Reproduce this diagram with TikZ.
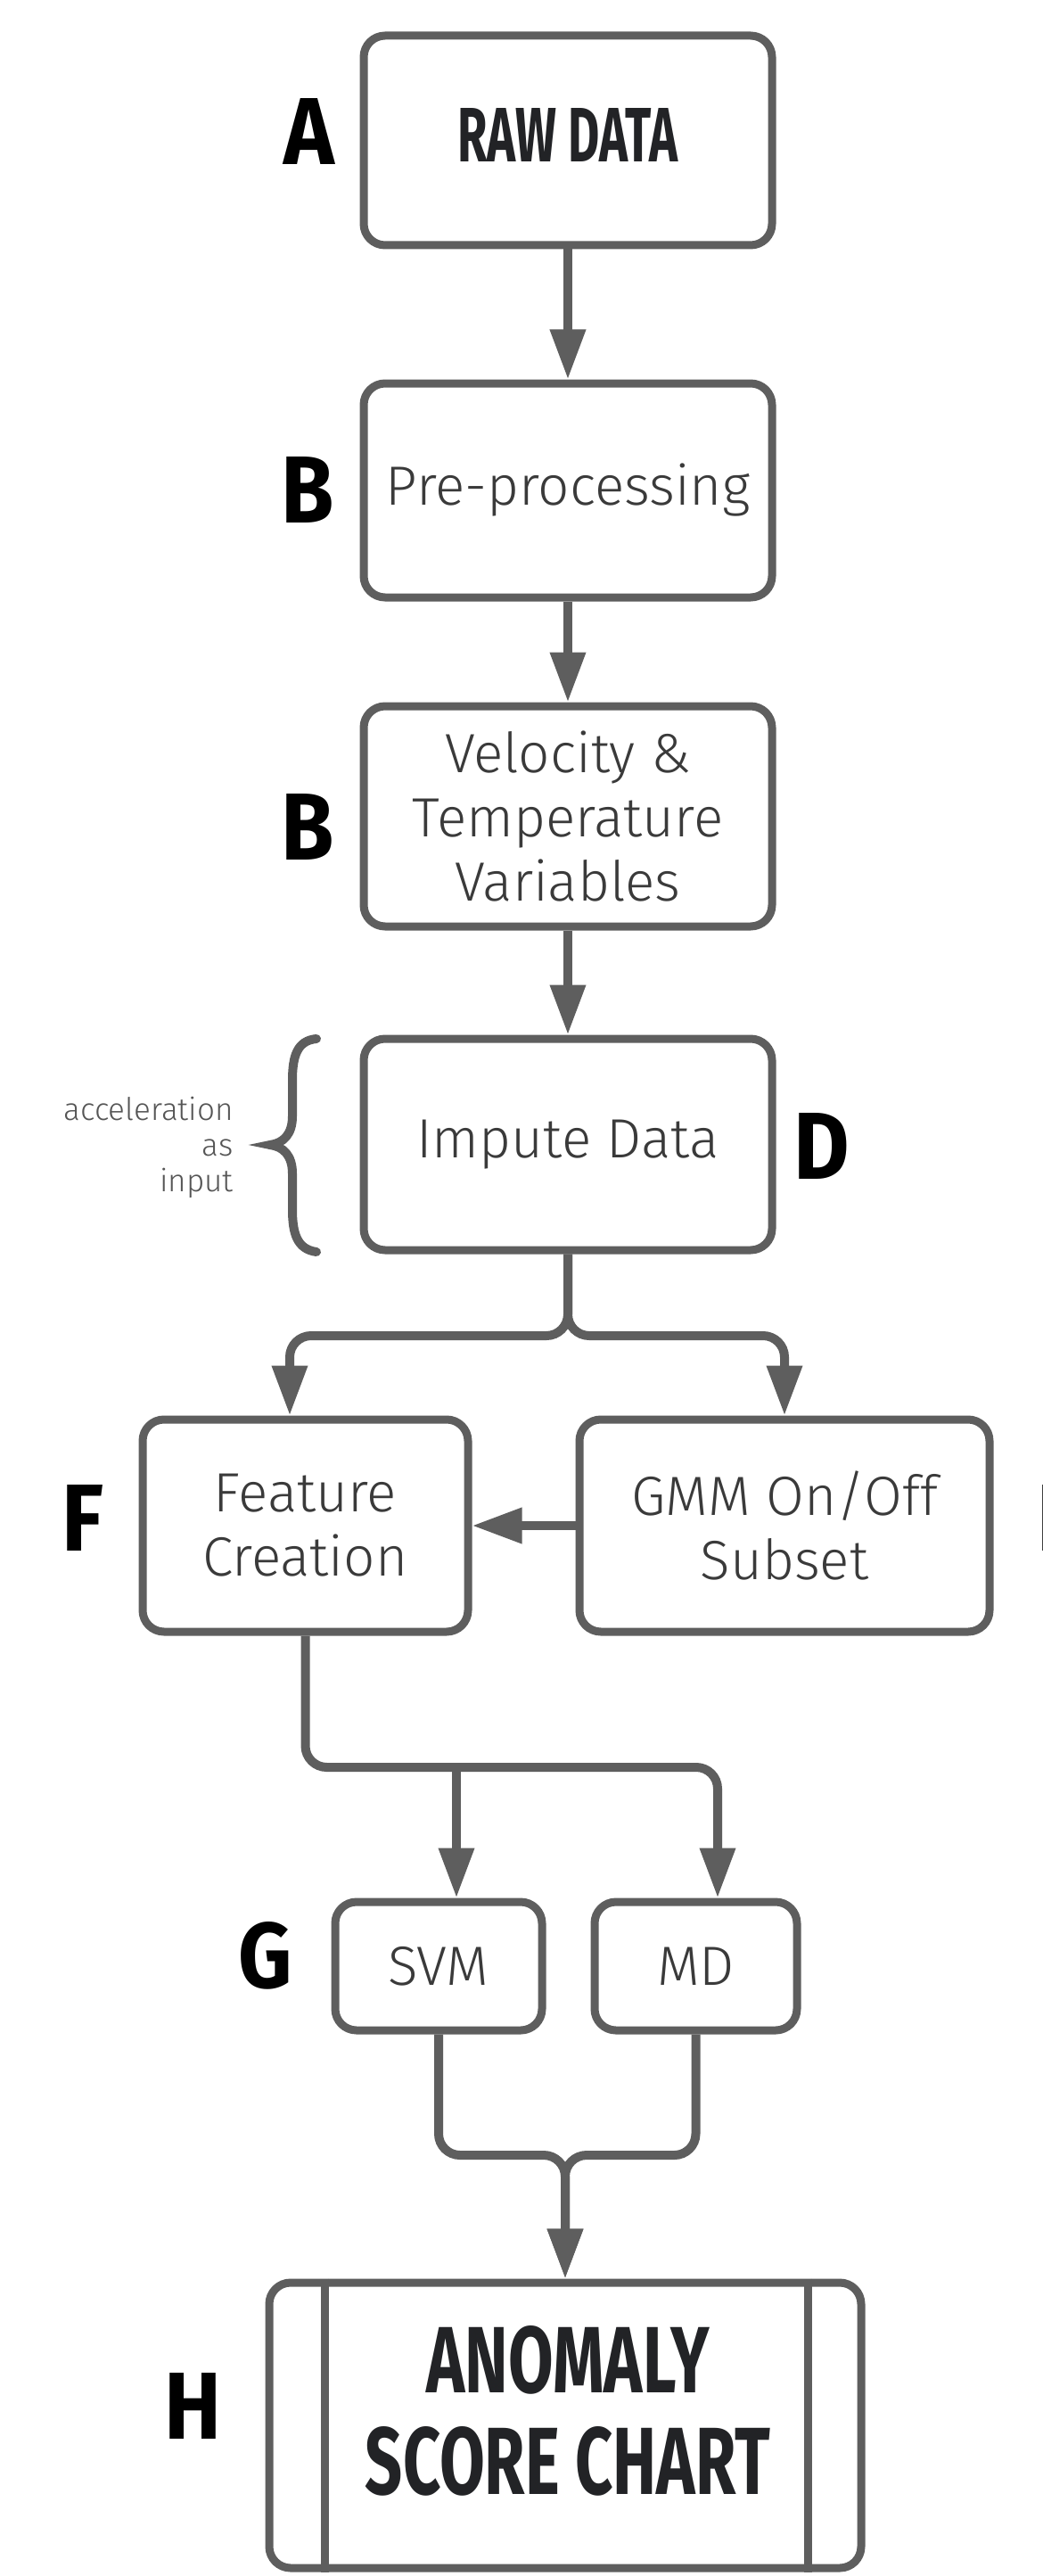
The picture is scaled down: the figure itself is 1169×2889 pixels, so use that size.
\documentclass[tikz,border=0pt]{standalone}
\usepackage{fontspec}
\usetikzlibrary{arrows.meta}
\newfontfamily\bodyfont{Fira Sans Light}
\newfontfamily\capfont{Fira Sans}[FakeStretch=0.62]
\newfontfamily\labfont{Fira Sans}[FakeStretch=0.9]
\definecolor{linegray}{HTML}{5E5E5E}
\definecolor{txtgray}{HTML}{3A3A3A}
\definecolor{softgray}{HTML}{555555}
\definecolor{capdark}{HTML}{222326}
\newcommand{\lab}[1]{\resizebox{!}{37pt}{\labfont\bfseries #1}}
\begin{document}
\begin{tikzpicture}[x=0.5pt,y=-0.5pt,
  box/.style={draw=linegray, line width=4.5pt, rounded corners=12pt, fill=white,
    inner sep=0pt, align=center, text=txtgray,
    font=\bodyfont\fontsize{31}{36}\selectfont},
  conn/.style={draw=linegray, line width=5pt},
  arr/.style={conn, -{Triangle[length=28pt,width=19pt]}},
  lab/.style={inner sep=0pt, text=black},
  captxt/.style={inner sep=0pt, text=capdark},
  side/.style={inner sep=0pt, align=right, anchor=east, text=softgray,
    font=\bodyfont\fontsize{17.5}{20}\selectfont}]
\path[use as bounding box, fill=white] (0,0) rectangle (1169,2889);
\clip (0,0) rectangle (1169,2889);

% boxes
\node[box, minimum width=229pt, minimum height=117.5pt] (raw) at (637,157.5)
  {\raisebox{6pt}{\color{capdark}\resizebox{123.5pt}{30pt}{\capfont\bfseries RAW DATA}}};
\node[box, minimum width=229pt, minimum height=120pt] (pre) at (637,550) {Pre-processing};
\node[box, minimum width=229pt, minimum height=123.5pt] (vel) at (637,915.5)
  {Velocity \&\\Temperature\\Variables};
\node[box, minimum width=229pt, minimum height=118.5pt] (imp) at (637,1283.5) {Impute Data};
\node[box, minimum width=182.5pt, minimum height=119pt] (feat) at (342.5,1711) {Feature\\Creation};
\node[box, minimum width=230pt, minimum height=119pt] (gmm) at (880,1711) {GMM On/Off\\Subset};
\node[box, minimum width=116pt, minimum height=72pt] (svm) at (492,2205) {SVM};
\node[box, minimum width=113.5pt, minimum height=72pt] (md) at (780.5,2205) {MD};
\node[box, minimum width=332pt, minimum height=160pt] (anom) at (634,2720) {};
\draw[linegray, line width=4.5pt] ([xshift=33.5pt]anom.north west) -- ([xshift=33.5pt]anom.south west);
\draw[linegray, line width=4.5pt] ([xshift=-32pt]anom.north east) -- ([xshift=-32pt]anom.south east);
\node[captxt] (anomA) at (637,2647) {\resizebox{158.5pt}{37.5pt}{\capfont\bfseries ANOMALY}};
\node[captxt] (anomB) at (637,2760) {\resizebox{227pt}{38pt}{\capfont\bfseries SCORE CHART}};

% side labels
\node[lab] (lA) at (347,148) {\lab{A}};
\node[lab] (lB1) at (345,549) {\lab{B}};
\node[lab] (lB2) at (345,927) {\lab{B}};
\node[lab] (lD) at (922,1285) {\lab{D}};
\node[lab] (lF) at (93,1702) {\lab{F}};
\node[lab] (lE) at (1189,1702) {\lab{E}};
\node[lab] (lG) at (298,2193) {\lab{G}};
\node[lab] (lH) at (217,2698) {\lab{H}};

% annotation with brace
\node[side] (accel) at (262,1287) {acceleration\\as\\input};
\draw[linegray, line width=5pt, line cap=round]
  (355,1165) .. controls (333,1167) and (328,1185) .. (328,1212)
  -- (328,1252) .. controls (328,1272) and (318,1282) .. (303,1284)
  .. controls (318,1286) and (328,1296) .. (328,1316)
  -- (328,1356) .. controls (328,1383) and (333,1401) .. (355,1404);

% connectors
\draw[arr] (raw.south) -- (pre.north);
\draw[arr] (pre.south) -- (vel.north);
\draw[arr] (vel.south) -- (imp.north);

\coordinate (split) at (637,1498);
\path (feat.north) ++(-17.5,0) coordinate (featin);
\draw[arr, rounded corners=12pt] (imp.south) -- (split) -| (featin);
\draw[arr, rounded corners=12pt] (imp.south) -- (split) -| (gmm.north);
\draw[arr] (gmm.west) -- (feat.east);

\coordinate (fsplit) at (342.5,1982);
\path (svm.north) ++(20,0) coordinate (svmin);
\path (md.north) ++(24.5,0) coordinate (mdin);
\draw[arr, rounded corners=12pt] (feat.south) -- (fsplit) -| (mdin);
\draw[arr] (svmin |- fsplit) -- (svmin);

\coordinate (merge) at (634,2417);
\draw[arr, rounded corners=12pt] (svm.south) |- (merge) -- (anom.north);
\draw[arr, rounded corners=12pt] (md.south) |- (merge) -- (anom.north);
\end{tikzpicture}
\end{document}
